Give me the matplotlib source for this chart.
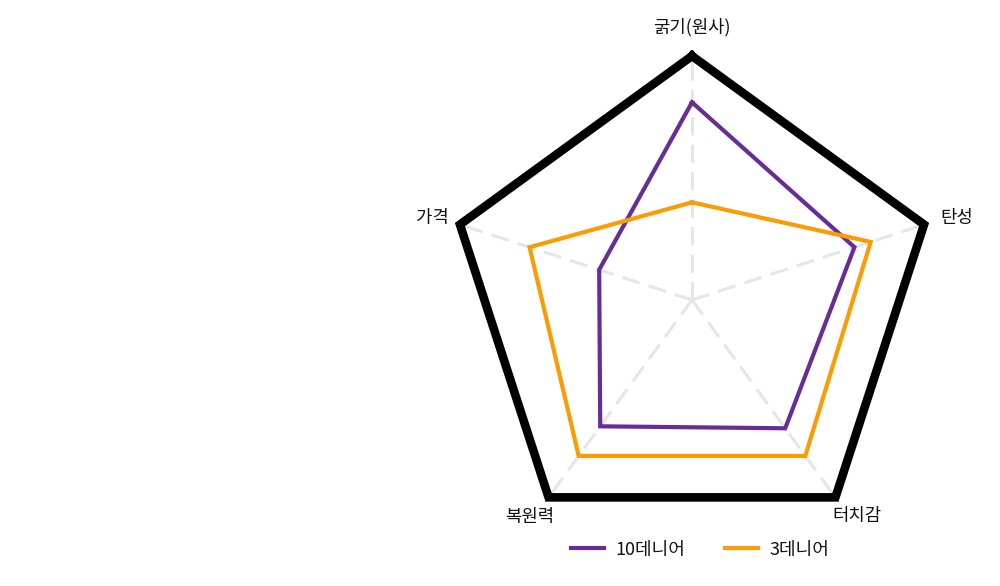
import numpy as np
import matplotlib
matplotlib.use("Agg")
import matplotlib.pyplot as plt

plt.rcParams['font.family'] = ['Noto Sans CJK KR', 'DejaVu Sans']

# axes order: clockwise from the top
categories = ["굵기(원사)", "탄성", "터치감", "복원력", "가격"]
series_names = ["10데니어", "3데니어"]
denier10 = [81, 70, 65, 64, 40]
denier3 = [40, 77, 79, 79, 70]
max_value = 100

PURPLE = "#682d94"
ORANGE = "#fb9c05"
TEXT = "#111111"


def closed(vals):
    return list(vals) + [vals[0]]


def main():
    fig = plt.figure(figsize=(10, 5.86), dpi=100)
    # polar axes placed so the outer pentagon sits on the right half
    ax = fig.add_axes([0.448, 0.0717, 0.488, 0.8328], projection="polar")
    ax.set_theta_offset(np.pi / 2)
    ax.set_theta_direction(-1)

    n = len(categories)
    angles = np.linspace(0, 2 * np.pi, n, endpoint=False)
    ang_c = closed(angles)

    # outer frame at max value
    ax.plot(ang_c, [max_value] * (n + 1), color="black", lw=6.2,
            solid_joinstyle="miter", clip_on=False, zorder=4)

    ax.plot(ang_c, closed(denier10), color=PURPLE, lw=3.0,
            solid_joinstyle="miter", label=series_names[0], zorder=5)
    ax.plot(ang_c, closed(denier3), color=ORANGE, lw=3.0,
            solid_joinstyle="miter", label=series_names[1], zorder=5)

    ax.set_ylim(0, max_value)
    ax.set_xticks(angles)
    ax.set_xticklabels([])
    ax.set_yticks([])
    ax.spines["polar"].set_visible(False)
    ax.grid(False)
    ax.xaxis.grid(True, color="#e6e6e6", lw=2.2, linestyle=(0, (6, 3)))
    ax.patch.set_alpha(0)

    # category labels around the frame
    label_style = [
        ("center", "bottom", (0, 14)),
        ("left", "center", (12, 5)),
        ("left", "top", (-2, -7)),
        ("right", "top", (4, -8)),
        ("right", "center", (-8, 5)),
    ]
    for ang, lab, (ha, va, off) in zip(angles, categories, label_style):
        ax.annotate(lab, xy=(ang, max_value), xytext=off,
                    textcoords="offset points", ha=ha, va=va,
                    fontsize=12.8, color=TEXT, annotation_clip=False)

    fig.legend(loc="center", bbox_to_anchor=(0.70, 0.062), ncol=2,
               frameon=False, fontsize=13, handlelength=1.85,
               handletextpad=0.6, columnspacing=2.2, labelcolor=TEXT)

    fig.savefig("out.png", dpi=100)


if __name__ == "__main__":
    main()
